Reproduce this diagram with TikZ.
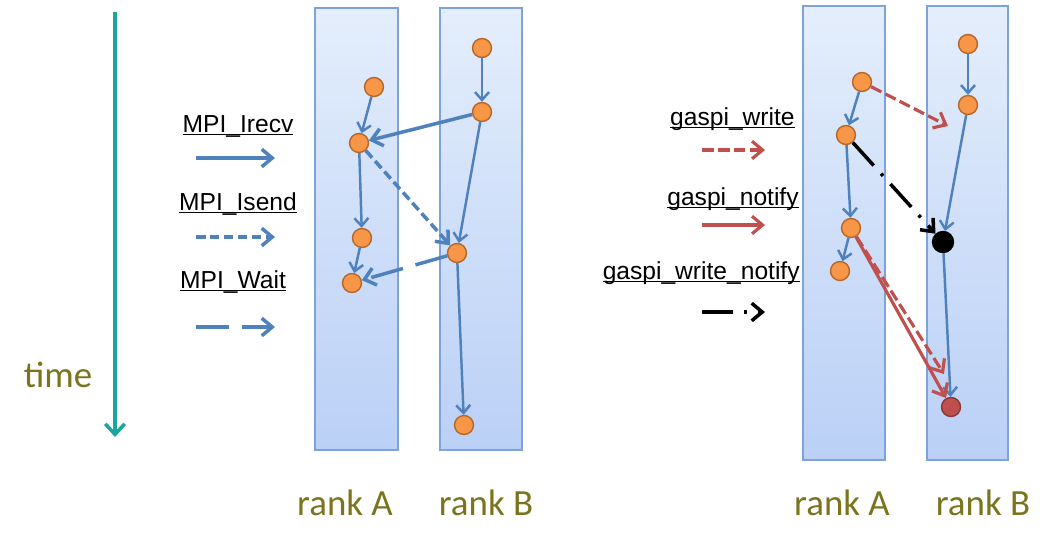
\documentclass[tikz,border=0pt]{standalone}
\usepackage{fontspec}
\setmainfont{Carlito}
\newfontfamily\lgdfont{Liberation Sans}
\usetikzlibrary{arrows.meta}
\definecolor{mpiblue}{RGB}{79,129,189}
\definecolor{gasred}{RGB}{192,80,77}
\definecolor{evfill}{RGB}{247,150,70}
\definecolor{evedge}{RGB}{182,102,40}
\definecolor{ranktop}{RGB}{228,238,252}
\definecolor{rankbot}{RGB}{186,208,246}
\definecolor{rankedge}{RGB}{126,163,217}
\definecolor{labelolive}{RGB}{122,116,30}
\definecolor{timeteal}{RGB}{26,166,160}
% underline that sits on the baseline, like the original slides
\newcommand{\ulin}[1]{\setbox0\hbox{#1}\rlap{\rule[-0.13em]{\wd0}{0.06em}}\box0}
\tikzset{
  rank/.style={draw=rankedge, line width=0.8pt, top color=ranktop, bottom color=rankbot},
  ev/.style={circle, draw=evedge, fill=evfill, line width=0.8pt,
    minimum size=0.38cm, inner sep=0pt},
  rank label/.style={text=labelolive, font=\fontsize{21}{24}\selectfont},
  lgd/.style={font=\lgdfont\fontsize{14}{16}\selectfont, anchor=base, inner sep=0pt},
  timeline/.style={timeteal, line width=2pt, -{Straight Barb[length=6pt,width=11pt]}},
  seq/.style={mpiblue, line width=1.4pt, -{Straight Barb[length=4.5pt,width=8pt]}},
  irecv/.style={mpiblue, line width=2pt, -{Straight Barb[length=6pt,width=10pt]}},
  isend/.style={irecv, dash pattern=on 0.19cm off 0.09cm},
  wait/.style={irecv, dash pattern=on 0.66cm off 0.26cm},
  gnotify/.style={gasred, line width=1.8pt, -{Straight Barb[length=6pt,width=10pt]}},
  gwrite/.style={gnotify, dash pattern=on 0.23cm off 0.09cm},
  gwn/.style={black, line width=2pt, dash pattern=on 0.62cm off 0.22cm on 0.06cm off 0.22cm,
    -{Straight Barb[length=6pt,width=10pt]}}
}

\begin{document}
\begin{tikzpicture}[x=0.02cm, y=-0.02cm]
\useasboundingbox (0,0) rectangle (1055,535);
% time axis
\coordinate (t0) at (115,12);
\coordinate (t1) at (115,437);
\draw[timeline] (t0) -- (t1);
\node[rank label] (tlab) at (58,375) {time};
% rank columns
\draw[rank] (315,8) rectangle (398,450);
\draw[rank] (440,8) rectangle (522,450);
\draw[rank] (803,6) rectangle (885,460);
\draw[rank] (927,6) rectangle (1008,460);
\node[rank label] (lA) at (345,503) {rank A};
\node[rank label] (lB) at (486,503) {rank B};
\node[rank label] (rA) at (842,503) {rank A};
\node[rank label] (rB) at (983,503) {rank B};
% events
\foreach \n/\x/\y in {a1/374/87, a2/359/143, a3/362/238, a4/352/283,
    b1/482/48, b2/482/112, b3/457/253, b4/464/425,
    c1/862/82, c2/846/135, c3/851/228, c4/840/271, d1/968/44, d2/968/105}
  \node[ev] (\n) at (\x,\y) {};
\node[ev, fill=black, draw=black, minimum size=0.42cm] (d3) at (943,242) {};
\node[ev, fill=gasred, draw=gasred!70!black] (d4) at (951,407) {};
% program order
\foreach \s/\t in {a1/a2, a2/a3, a3/a4, b1/b2, b2/b3, b3/b4,
    c1/c2, c2/c3, c3/c4, d1/d2, d2/d3, d3/d4}
  \draw[seq] (\s) -- (\t);
% MPI messages
\draw[irecv] (b2) -- (a2);
\draw[isend] (a2) -- (b3);
\draw[wait] (b3) -- (a4);
% GASPI messages
\coordinate (wEnd) at (948,126);
\coordinate (wnEnd) at (944,374);
\draw[gwrite] (c1) -- (wEnd);
\draw[gwn] (c2) -- (d3);
\draw[gwrite] (c3) -- (wnEnd);
\draw[gnotify] (c3) -- (d4);
% MPI legend
\node[lgd] (kIrecv) at (238,132) {\ulin{MPI\_Irecv}};
\node[lgd] (kIsend) at (238,210) {\ulin{MPI\_Isend}};
\node[lgd] (kWait) at (233,288) {\ulin{MPI\_Wait}};
\coordinate (k1a) at (196,158); \coordinate (k1b) at (275,158);
\coordinate (k2a) at (196,237); \coordinate (k2b) at (275,237);
\coordinate (k3a) at (196,327); \coordinate (k3b) at (275,327);
\draw[irecv] (k1a) -- (k1b);
\draw[isend] (k2a) -- (k2b);
\draw[wait] (k3a) -- (k3b);
% GASPI legend
\node[lgd, anchor=base east] (kWrite) at (795,125) {\ulin{gaspi\_write}};
\node[lgd, anchor=base east] (kNotify) at (799,205) {\ulin{gaspi\_notify}};
\node[lgd, anchor=base east] (kWN) at (800,279) {\ulin{gaspi\_write\_notify}};
\coordinate (g1a) at (702,150); \coordinate (g1b) at (765,150);
\coordinate (g2a) at (702,225); \coordinate (g2b) at (765,225);
\coordinate (g3a) at (702,312); \coordinate (g3b) at (765,312);
\draw[gwrite] (g1a) -- (g1b);
\draw[gnotify] (g2a) -- (g2b);
\draw[gwn] (g3a) -- (g3b);
\end{tikzpicture}
\end{document}
